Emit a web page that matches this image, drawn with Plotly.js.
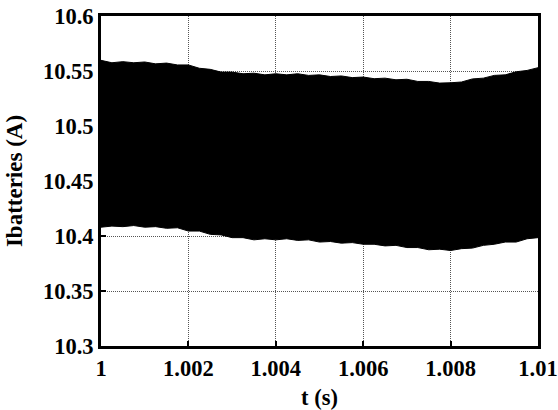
<!DOCTYPE html>
<html>
<head>
<meta charset="utf-8">
<script src="https://cdn.plot.ly/plotly-3.0.1.min.js"></script>
<style>html,body{margin:0;padding:0;background:#fff;}#chart{width:558px;height:410px;}</style>
</head>
<body>
<div id="chart"></div>
<script>
// Time samples (s)
var tValues = [1.00000,1.00025,1.00050,1.00075,1.00100,1.00125,1.00150,1.00175,1.00200,1.00225,
               1.00250,1.00275,1.00300,1.00325,1.00350,1.00375,1.00400,1.00425,1.00450,1.00475,
               1.00500,1.00525,1.00550,1.00575,1.00600,1.00625,1.00650,1.00675,1.00700,1.00725,
               1.00750,1.00775,1.00800,1.00825,1.00850,1.00875,1.00900,1.00925,1.00950,1.00975,1.01000];
// Upper envelope of the ripple current (A)
var upperValues = [10.5597,10.5575,10.5585,10.5575,10.5582,10.5565,10.5572,10.5555,10.5555,10.5525,
                   10.5515,10.5490,10.5490,10.5475,10.5480,10.5465,10.5475,10.5465,10.5475,10.5460,
                   10.5465,10.5450,10.5455,10.5440,10.5445,10.5430,10.5435,10.5420,10.5425,10.5405,
                   10.5405,10.5390,10.5393,10.5400,10.5428,10.5435,10.5460,10.5465,10.5493,10.5505,10.5530];
// Lower envelope of the ripple current (A)
var lowerValues = [10.4080,10.4090,10.4085,10.4095,10.4080,10.4085,10.4070,10.4075,10.4045,10.4045,
                   10.4015,10.4010,10.3985,10.3985,10.3965,10.3975,10.3965,10.3975,10.3960,10.3965,
                   10.3945,10.3950,10.3935,10.3940,10.3925,10.3925,10.3910,10.3915,10.3895,10.3895,
                   10.3875,10.3880,10.3868,10.3885,10.3890,10.3915,10.3925,10.3945,10.3945,10.3975,10.3985];
var xTicks = [1, 1.002, 1.004, 1.006, 1.008, 1.01];
var xTickText = ['1', '1.002', '1.004', '1.006', '1.008', '1.01'];
var yTicks = [10.3, 10.35, 10.4, 10.45, 10.5, 10.55, 10.6];
var yTickText = ['10.3', '10.35', '10.4', '10.45', '10.5', '10.55', '10.6'];

var fontFam = '"Liberation Serif", "Times New Roman", serif';

var traces = [
  {x: tValues, y: lowerValues, type: 'scatter', mode: 'lines',
   line: {color: '#000', width: 1}, hoverinfo: 'skip', showlegend: false},
  {x: tValues, y: upperValues, type: 'scatter', mode: 'lines', fill: 'tonexty',
   fillcolor: '#000', line: {color: '#000', width: 1}, hoverinfo: 'skip', showlegend: false}
];

var axisCommon = {
  showline: true, linecolor: '#000', linewidth: 3, mirror: true,
  ticks: 'inside', ticklen: 5, tickwidth: 2, tickcolor: '#000',
  showgrid: true, gridcolor: '#555', gridwidth: 1, griddash: '1px,1px',
  zeroline: false, automargin: false,
  tickfont: {family: fontFam, size: 22.5, color: '#000', weight: 'bold'}
};

var layout = {
  width: 558, height: 410,
  margin: {l: 101, r: 20, t: 16, b: 64},
  paper_bgcolor: '#fff', plot_bgcolor: '#fff',
  showlegend: false,
  xaxis: Object.assign({}, axisCommon, {
    range: [1, 1.01], tickvals: xTicks, ticktext: xTickText,
    title: {text: 't (s)', font: {family: fontFam, size: 22.5, color: '#000', weight: 'bold'}, standoff: 10}
  }),
  yaxis: Object.assign({}, axisCommon, {
    range: [10.3, 10.6], tickvals: yTicks, ticktext: yTickText,
    title: {text: 'Ibatteries (A)', font: {family: fontFam, size: 23, color: '#000', weight: 'bold'}, standoff: 14}
  })
};

Plotly.newPlot('chart', traces, layout, {displayModeBar: false, staticPlot: true});
</script>
</body>
</html>
